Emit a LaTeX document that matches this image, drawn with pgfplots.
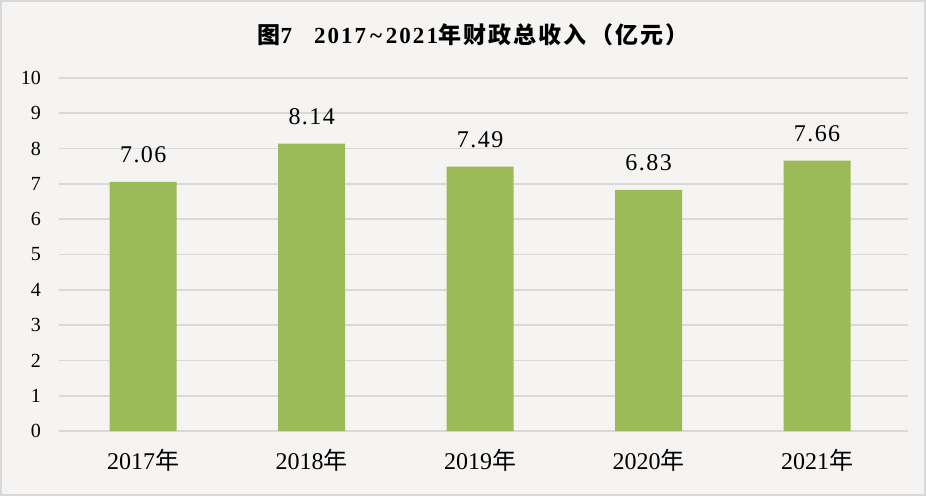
\documentclass[border=0pt]{standalone}
\usepackage{fontspec}
\setmainfont{Liberation Serif}
\newfontfamily\cjk{Noto Sans CJK SC}
\newfontfamily\cjkt[LetterSpace=9]{Noto Sans CJK SC}
\newfontfamily\titlefont[LetterSpace=9]{Liberation Serif}
\newfontfamily\spaced[LetterSpace=6]{Liberation Serif}
\usepackage{pgfplots}
\pgfplotsset{compat=1.18}
\definecolor{bargreen}{HTML}{9BBB59}
\definecolor{gridgray}{HTML}{D9D9D9}
\definecolor{paper}{RGB}{245,244,242}
\begin{document}
\begin{tikzpicture}
\useasboundingbox (0,0) rectangle (926pt,496pt);
\fill[paper] (0,0) rectangle (926pt,496pt);
\draw[gridgray, line width=2pt] (1pt,1pt) rectangle (925pt,495pt);
\node[font=\fontsize{23}{26}\selectfont\bfseries] at (473pt,461pt)
  {{\cjkt 图}{\titlefont 7}\hspace{22pt}{\titlefont 2017\,\textasciitilde\,2021}{\cjkt 年财政总收入\,（亿元）}};
\begin{axis}[
  at={(59pt,65pt)}, anchor=south west,
  scale only axis, width=849pt, height=353pt,
  xmin=-0.5, xmax=4.54, ymin=0, ymax=10,
  ybar, bar width=67pt,
  xtick={0,1,2,3,4},
  xticklabels={2017{\cjk 年},2018{\cjk 年},2019{\cjk 年},2020{\cjk 年},2021{\cjk 年}},
  ytick={0,1,...,10},
  major tick length=0pt,
  axis line style={draw=none},
  ymajorgrids, grid style={gridgray, line width=1.7pt},
  /pgf/number format/assume math mode=true,
  yticklabel style={font=\fontsize{20}{22}\selectfont, anchor=east, inner sep=0pt, xshift=-18pt},
  xticklabel style={font=\fontsize{24}{28}\selectfont, anchor=base, inner sep=0pt, yshift=-38pt},
  nodes near coords={\pgfmathprintnumber[fixed,fixed zerofill,precision=2]{\pgfplotspointmeta}},
  nodes near coords style={font=\spaced\fontsize{24}{28}\selectfont, anchor=base, inner sep=0pt, yshift=19pt, text=black},
]
\addplot[fill=bargreen, draw=none] coordinates {(0,7.06) (1,8.14) (2,7.49) (3,6.83) (4,7.66)};
\end{axis}
\end{tikzpicture}
\end{document}
